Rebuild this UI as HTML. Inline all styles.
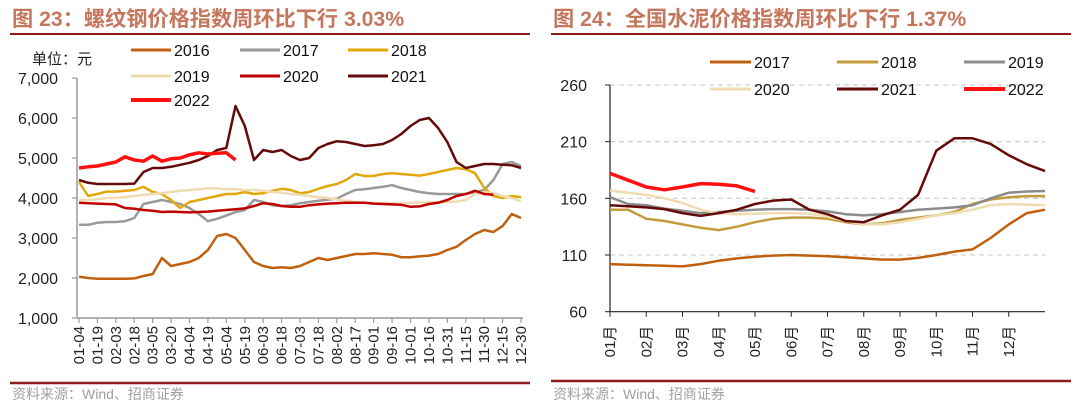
<!DOCTYPE html>
<html><head><meta charset="utf-8">
<style>
html,body{margin:0;padding:0;background:#fff;}
body{width:1080px;height:406px;overflow:hidden;font-family:"Liberation Sans","Noto Sans CJK SC",sans-serif;}
svg text{font-family:"Liberation Sans","Noto Sans CJK SC",sans-serif;}
</style></head>
<body>
<svg id="root" width="1080" height="406" viewBox="0 0 1080 406">
  <text x="12" y="26" font-size="21.2" font-weight="bold" fill="#c4775d">图 23：螺纹钢价格指数周环比下行 3.03%</text>
  <line x1="10" y1="34" x2="530" y2="34" stroke="#8b1c1c" stroke-width="2"/>
  <text x="553" y="26" font-size="21.2" font-weight="bold" fill="#c4775d">图 24：全国水泥价格指数周环比下行 1.37%</text>
  <line x1="551" y1="34" x2="1071" y2="34" stroke="#8b1c1c" stroke-width="2"/>
  <line x1="10" y1="383" x2="530" y2="383" stroke="#8b1c1c" stroke-width="2.5"/>
  <line x1="551" y1="381" x2="1071" y2="381" stroke="#8b1c1c" stroke-width="2.5"/>
  <text x="12" y="399" font-size="14" fill="#a0a0a0">资料来源：Wind、招商证券</text>
  <text x="553" y="399" font-size="14" fill="#a0a0a0">资料来源：Wind、招商证券</text>
  <text x="32" y="64" font-size="15" fill="#222">单位：元</text>
  <g id="left"></g>
  <g id="right"></g>
</svg>
<script>
// ---------- LEFT CHART DATA (weekly, 49 slots 01-04 .. 12-30) ----------
const leftTickLabels = ["01-04","01-19","02-03","02-18","03-05","03-20","04-04","04-19","05-04","05-19","06-03","06-18","07-03","07-18","08-02","08-17","09-01","09-16","10-01","10-16","10-31","11-15","11-30","12-15","12-30"];
const leftYTicks = [1000,2000,3000,4000,5000,6000,7000];
const leftYears = ["2016","2017","2018","2019","2020","2021","2022"];
const s2016 = [2030,2000,1980,1980,1980,1980,1990,2050,2100,2500,2300,2350,2400,2500,2700,3050,3100,3000,2700,2400,2300,2250,2270,2250,2300,2400,2500,2450,2500,2550,2600,2600,2620,2600,2580,2520,2520,2540,2560,2600,2700,2780,2950,3100,3200,3150,3300,3600,3500];
const s2017 = [3330,3330,3380,3400,3400,3420,3500,3850,3900,3950,3900,3850,3750,3600,3420,3480,3560,3650,3700,3950,3900,3820,3800,3820,3870,3900,3930,3960,3980,4100,4200,4220,4250,4280,4320,4250,4200,4150,4120,4100,4100,4100,4100,4150,4200,4450,4850,4900,4800];
const s2018 = [4400,4050,4100,4160,4160,4180,4200,4280,4150,4100,3950,3750,3900,3950,4000,4050,4100,4100,4150,4100,4120,4180,4230,4200,4120,4150,4230,4300,4350,4450,4600,4550,4550,4600,4620,4600,4580,4560,4600,4650,4700,4750,4720,4620,4250,4050,4000,4050,4020];
const s2019 = [3950,3950,3970,4000,4000,4020,4050,4080,4100,4120,4150,4180,4200,4220,4240,4240,4220,4220,4200,4200,4180,4150,4130,4100,4080,4050,4020,4000,3960,3930,3900,3880,3870,3870,3860,3860,3880,3880,3890,3900,3900,3910,3950,4100,4150,4120,4050,4000,3920];
const s2020 = [3880,3870,3860,3850,3840,3750,3730,3700,3680,3650,3660,3650,3640,3650,3660,3680,3700,3720,3740,3800,3870,3850,3800,3780,3780,3820,3840,3860,3870,3880,3880,3880,3860,3850,3840,3830,3780,3790,3850,3880,3950,4050,4100,4180,4100,4080];
const s2021 = [4450,4380,4350,4350,4350,4350,4360,4650,4750,4750,4780,4830,4880,4950,5050,5200,5250,6300,5800,4950,5200,5150,5200,5050,4950,5000,5250,5350,5420,5400,5350,5300,5320,5350,5450,5600,5800,5950,6000,5750,5400,4900,4750,4800,4850,4850,4830,4820,4750];
const s2022 = [4750,4780,4800,4850,4900,5030,4950,4920,5050,4920,4980,5000,5080,5130,5100,5120,5130,4950];

// ---------- RIGHT CHART DATA (semi-monthly, 25 slots Jan..Dec end) ----------
const rightTickLabels = ["01月","02月","03月","04月","05月","06月","07月","08月","09月","10月","11月","12月"];
const rightYTicks = [60,110,160,210,260];
const rightYears = ["2017","2018","2019","2020","2021","2022"];
const c2017 = [102,101.5,101,100.5,100,102,105,107,108.5,109.5,110,109.5,109,108,107,106,106,107.5,110,113,115,125,137,147,150];
const c2018 = [150,150,142,140,137,134,132,135,139,142,143,143,142,139,137,138,141,143,145,148,155,159,161,162,162];
const c2019 = [161,155,154,151,149,147,148,149,150,150.5,150.5,150,148.5,146,145,146,148,150,151,152,154,160,165,166,166.5];
const c2020 = [167,165,163,160,156,150,147,146,146.5,147,147,146.5,144,140,137,137,139,142,145,147,150,154,155,154.5,154];
const c2021 = [154,153,152,150.5,147,144.5,147,150,155,158,159,150,146,140,139,145,150,163,202,213,213,208,198,190,184];
const c2022 = [182,176,170,167.5,170,173,172.5,171,166];

const NS = "http://www.w3.org/2000/svg";
function mk(parent, tag, attrs){ const e=document.createElementNS(NS,tag); for(const k in attrs) e.setAttribute(k,attrs[k]); parent.appendChild(e); return e; }

// ---- left axes ----
const L = document.getElementById('left');
const lx0=79, lx1=521, ly0=318, ly1=78;
const lxScale = i => lx0 + i*(lx1-lx0)/48;
const lyScale = v => ly0 - (v-1000)*(ly0-ly1)/6000;
let ax = mk(L,'line',{x1:77,y1:ly1,x2:77,y2:ly0,stroke:'#999','stroke-width':1.5});
 
ax = mk(L,'line',{x1:77,y1:ly0,x2:523,y2:ly0,stroke:'#999','stroke-width':1.5});
 
leftYTicks.forEach(v=>{
  const y=lyScale(v);
  const t=mk(L,'line',{x1:72,y1:y,x2:77,y2:y,stroke:'#999','stroke-width':1.2});
   
  const tx=mk(L,'text',{x:58,y:y+6,'font-size':16,'text-anchor':'end',fill:'#222'});
  tx.textContent=v.toLocaleString('en-US');
   
});
leftTickLabels.forEach((lab,i)=>{
  const x=lxScale(i*2);
  const t=mk(L,'line',{x1:x,y1:ly0,x2:x,y2:ly0+5,stroke:'#999','stroke-width':1.2});
   
  const tx=mk(L,'text',{x:0,y:0,'font-size':15,'text-anchor':'end',fill:'#222',transform:`translate(${x+5},${ly0+8}) rotate(-90)`});
  tx.textContent=lab;
   
});
const leftSeries=[s2016,s2017,s2018,s2019,s2020,s2021,s2022];
const leftColors=['#c0600e','#999999','#e3a70a','#efdcb0','#c00000','#650a0a','#ff1010'];
const leftWidths=[2.5,2.5,2.5,2.5,2.5,2.5,3.5];
leftSeries.forEach((s,k)=>{
  const d=s.map((v,i)=>(i?'L':'M')+lxScale(i).toFixed(1)+','+lyScale(v).toFixed(1)).join(' ');
  const p=mk(L,'path',{d:d,fill:'none',stroke:leftColors[k],'stroke-width':leftWidths[k],'stroke-linejoin':'round'});
   
});
// left legend
const lLegPos=[[131,50],[240,50],[348,50],[131,76],[240,76],[348,76],[131,100]];
leftYears.forEach((yr,k)=>{
  const [x,y]=lLegPos[k];
  const g=mk(L,'g',{});
   
  mk(g,'line',{x1:x,y1:y,x2:x+40,y2:y,stroke:leftColors[k],'stroke-width':k===6?4:3});
  const t=mk(g,'text',{x:x+43,y:y+6,'font-size':16,fill:'#111'}); t.textContent=yr;
});

// ---- right axes ----
const R=document.getElementById('right');
const rx0=610, rx1=1045, ry0=311.7, ry1=85;
const rxScale = j => rx0 + j*(rx1-rx0)/24;
const ryScale = v => ry0 - (v-60)*(ry0-ry1)/200;
rightYTicks.forEach(v=>{
  const y=ryScale(v);
  if(v>60){ const gl=mk(R,'line',{x1:rx0,y1:y,x2:rx1,y2:y,stroke:'#d0d0d0','stroke-width':1.3,'stroke-dasharray':'5,4'});
      }
  const t=mk(R,'line',{x1:rx0-5,y1:y,x2:rx0,y2:y,stroke:'#222','stroke-width':1});
   
  const tx=mk(R,'text',{x:587,y:y+6,'font-size':16,'text-anchor':'end',fill:'#222'});
  tx.textContent=v;
   
});
ax=mk(R,'line',{x1:rx0,y1:ry1,x2:rx0,y2:ry0,stroke:'#222','stroke-width':1.2});
 
ax=mk(R,'line',{x1:rx0,y1:ry0,x2:rx1,y2:ry0,stroke:'#222','stroke-width':1.2});
 
rightTickLabels.forEach((lab,m)=>{
  const x=rxScale(m*2);
  const t=mk(R,'line',{x1:x,y1:ry0,x2:x,y2:ry0+5,stroke:'#222','stroke-width':1});
   
  const tx=mk(R,'text',{x:0,y:0,'font-size':15,'text-anchor':'end',fill:'#222',transform:`translate(${x+5},${ry0+14}) rotate(-90)`});
  tx.textContent=lab;
   
});
const rightSeries=[c2017,c2018,c2019,c2020,c2021,c2022];
const rightColors=['#c0600e','#c49b3c','#8c8c8c','#efdcb0','#650a0a','#ff1010'];
rightSeries.forEach((s,k)=>{
  const d=s.map((v,j)=>(j?'L':'M')+rxScale(j).toFixed(1)+','+ryScale(v).toFixed(1)).join(' ');
  const p=mk(R,'path',{d:d,fill:'none',stroke:rightColors[k],'stroke-width':k===5?3.5:2.5,'stroke-linejoin':'round'});
   
});
const rLegPos=[[710,62],[837,62],[964,62],[710,89],[837,89],[964,89]];
rightYears.forEach((yr,k)=>{
  const [x,y]=rLegPos[k];
  const g=mk(R,'g',{});
   
  mk(g,'line',{x1:x,y1:y,x2:x+41,y2:y,stroke:rightColors[k],'stroke-width':k===5?4:3});
  const t=mk(g,'text',{x:x+44,y:y+6,'font-size':16,fill:'#111'}); t.textContent=yr;
});
</script>
</body></html>
